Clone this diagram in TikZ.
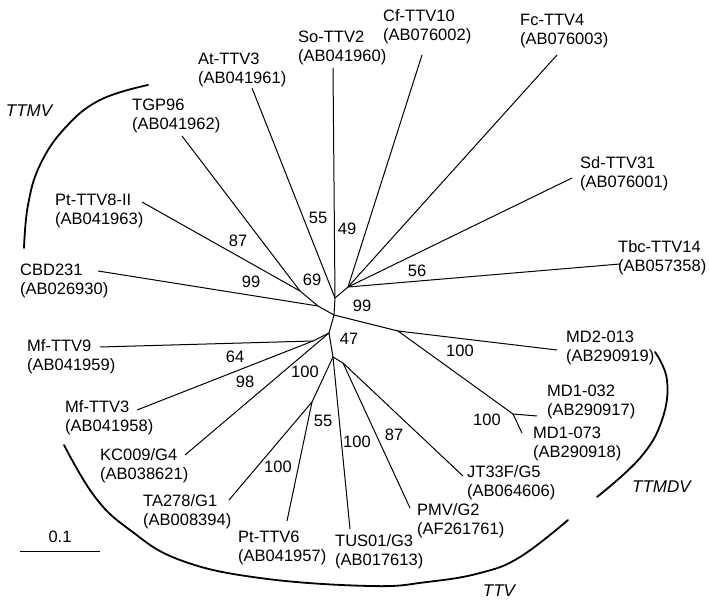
\documentclass[tikz,border=0pt]{standalone}
\usepackage{fontspec}
\setmainfont{Liberation Sans}
\tikzset{
  leaf/.style={anchor=west, align=left, inner sep=0pt, font=\fontsize{16.5}{19}\selectfont},
  boot/.style={inner sep=0pt, font=\fontsize{16.5}{19}\selectfont},
  clade/.style={inner sep=0pt, font=\fontsize{17}{19}\selectfont\itshape},
  branch/.style={line width=1pt},
  bracket/.style={line width=1.8pt, line cap=round}
}
\begin{document}
\begin{tikzpicture}[x=1pt,y=-1pt]
    \useasboundingbox (0,0) rectangle (709,601);
    % inner points of the tree
    \coordinate (a) at (348,287);
    \coordinate (b) at (335,298);
    \coordinate (c) at (334,315);
    \coordinate (e) at (318,306);
    \coordinate (f) at (300,291);
    \coordinate (d) at (329,333);
    \coordinate (i) at (313,341);
    \coordinate (j) at (333,357);
    \coordinate (l) at (343,363);
    \coordinate (k) at (312,402);
    \coordinate (g) at (398,331);
    \coordinate (h) at (513,414);
    % ends of the branches
    \coordinate (cfend) at (422,55);
    \coordinate (fcend) at (557,55);
    \coordinate (sdend) at (572,178);
    \coordinate (tbcend) at (620,264);
    \coordinate (soend) at (333,68);
    \coordinate (atend) at (252,88);
    \coordinate (tgpend) at (182,136);
    \coordinate (pt8end) at (142,202);
    \coordinate (cbdend) at (98,271);
    \coordinate (mf9end) at (100,347);
    \coordinate (mf3end) at (137,410);
    \coordinate (kcend) at (185,455);
    \coordinate (taend) at (229,500);
    \coordinate (pt6end) at (287,521);
    \coordinate (tusend) at (350,529);
    \coordinate (pmvend) at (410,508);
    \coordinate (jtend) at (463,476);
    \coordinate (md73end) at (522,433);
    \coordinate (md32end) at (537,416);
    \coordinate (md2end) at (557,350);

    \draw[branch] (a) -- (cfend);
    \draw[branch] (a) -- (fcend);
    \draw[branch] (a) -- (sdend);
    \draw[branch] (a) -- (tbcend);
    \draw[branch] (a) -- (b) -- (c);
    \draw[branch] (b) -- (soend);
    \draw[branch] (b) -- (atend);
    \draw[branch] (c) -- (e) -- (f) -- (tgpend);
    \draw[branch] (f) -- (pt8end);
    \draw[branch] (e) -- (cbdend);
    \draw[branch] (c) -- (g) -- (md2end);
    \draw[branch] (g) -- (h) -- (md32end);
    \draw[branch] (h) -- (md73end);
    \draw[branch] (c) -- (d) -- (i) -- (mf9end);
    \draw[branch] (i) -- (mf3end);
    \draw[branch] (d) -- (kcend);
    \draw[branch] (d) -- (j) -- (k) -- (taend);
    \draw[branch] (k) -- (pt6end);
    \draw[branch] (j) -- (tusend);
    \draw[branch] (j) -- (l) -- (pmvend);
    \draw[branch] (l) -- (jtend);

    % taxa
    \node[leaf] (cf) at (383,26.5) {Cf-TTV10\\(AB076002)};
    \node[leaf] (fc) at (520,31.5) {Fc-TTV4\\(AB076003)};
    \node[leaf] (sd) at (580,173.5) {Sd-TTV31\\(AB076001)};
    \node[leaf] (tbc) at (618,257.5) {Tbc-TTV14\\(AB057358)};
    \node[leaf] (so) at (298,47.5) {So-TTV2\\(AB041960)};
    \node[leaf] (at) at (198,69.5) {At-TTV3\\(AB041961)};
    \node[leaf] (tgp) at (132,116) {TGP96\\(AB041962)};
    \node[leaf] (pt8) at (55,211) {Pt-TTV8-II\\(AB041963)};
    \node[leaf] (cbd) at (20,280.5) {CBD231\\(AB026930)};
    \node[leaf] (mf9) at (27,356.5) {Mf-TTV9\\(AB041959)};
    \node[leaf] (mf3) at (65,417.5) {Mf-TTV3\\(AB041958)};
    \node[leaf] (kc) at (100,465.5) {KC009/G4\\(AB038621)};
    \node[leaf] (ta) at (143,512) {TA278/G1\\(AB008394)};
    \node[leaf] (pt6) at (238,547.5) {Pt-TTV6\\(AB041957)};
    \node[leaf] (tus) at (335,552) {TUS01/G3\\(AB017613)};
    \node[leaf] (pmv) at (417,520.5) {PMV/G2\\(AF261761)};
    \node[leaf] (jt) at (467,482.5) {JT33F/G5\\(AB064606)};
    \node[leaf] (md73) at (533,444) {MD1-073\\(AB290918)};
    \node[leaf] (md32) at (547,401.5) {MD1-032\\(AB290917)};
    \node[leaf] (md2) at (566,348) {MD2-013\\(AB290919)};

    % bootstrap values
    \node[boot] (b55a) at (318,218) {55};
    \node[boot] (b49) at (347,229) {49};
    \node[boot] (b56) at (417,271) {56};
    \node[boot] (b99a) at (362,306) {99};
    \node[boot] (b69) at (312,280) {69};
    \node[boot] (b87a) at (238,241) {87};
    \node[boot] (b99b) at (251,282) {99};
    \node[boot] (b64) at (235,357) {64};
    \node[boot] (b98) at (245,382) {98};
    \node[boot] (b100a) at (305,372) {100};
    \node[boot] (b47) at (349,339) {47};
    \node[boot] (b55b) at (323,421) {55};
    \node[boot] (b100b) at (278,467) {100};
    \node[boot] (b100c) at (357,442) {100};
    \node[boot] (b87b) at (394,435) {87};
    \node[boot] (b100d) at (460,351) {100};
    \node[boot] (b100e) at (487,420) {100};

    % groups
    \draw[bracket] plot[smooth, tension=0.7] coordinates {(148,85) (100,100) (65,128) (40,165) (28,205) (24,248)};
    \draw[bracket] plot[smooth, tension=0.7] coordinates {(655,352) (667,380) (662,420) (640,458) (597,497)};
    \draw[bracket] plot[smooth, tension=0.7] coordinates {(64,445) (95,497) (130,530) (180,560) (260,578) (370,586) (427,582) (480,573) (520,557) (568,520)};
    \node[clade] (ttmv) at (29,111) {TTMV};
    \node[clade, anchor=west] (ttmdv) at (632,487) {TTMDV};
    \node[clade] (ttv) at (499,591) {TTV};

    % scale bar
    \coordinate (s0) at (20,551);
    \coordinate (s1) at (100,551);
    \draw[branch] (s0) -- (s1);
    \node[boot] (sc) at (60,537) {0.1};
\end{tikzpicture}
\end{document}
